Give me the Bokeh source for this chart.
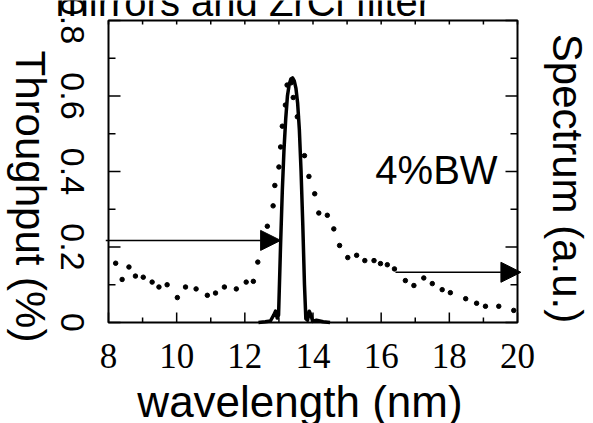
import math
from bokeh.plotting import figure
from bokeh.models import Arrow, NormalHead, Label, Range1d
from bokeh.embed import file_html
from bokeh.resources import INLINE

# ---- data ----
title_text = "mirrors and ZrCl filter"
x_label = "wavelength (nm)"
y_label = "Throughput (%)"
y2_label = "Spectrum (a.u.)"
x_ticks = [8, 10, 12, 14, 16, 18, 20]
x_tick_labels = ["8", "10", "12", "14", "16", "18", "20"]
x_minor = [9, 11, 13, 15, 17, 19]
y_ticks = [0, 0.2, 0.4, 0.6, 0.8]
y_tick_labels = ["0", "0.2", "0.4", "0.6", "0.8"]
y_minor = [0.1, 0.3, 0.5, 0.7]

# throughput (solid)
thr_wl = [12.4, 12.6, 12.75, 12.85, 12.9, 12.95, 12.99, 13.05, 13.1, 13.15, 13.2,
          13.25, 13.3, 13.35, 13.4, 13.45, 13.5, 13.55, 13.6, 13.65, 13.7, 13.75,
          13.79, 13.84, 13.89, 13.94, 13.99, 14.1, 14.3, 14.5]
thr_val = [0.0, 0.002, 0.004, 0.02, 0.03, 0.012, 0.02, 0.21, 0.35, 0.46, 0.54,
           0.60, 0.63, 0.645, 0.648, 0.64, 0.62, 0.58, 0.51, 0.40, 0.26, 0.10,
           0.01, 0.006, 0.03, 0.02, 0.003, 0.006, 0.002, 0.0]

# spectrum (dotted)
spec_wl = [8.21, 8.40, 8.60, 8.79, 9.02, 9.28, 9.48, 9.72, 10.02, 10.26, 10.57,
           10.90, 11.14, 11.40, 11.75, 12.04, 12.25, 12.38, 12.66, 12.83, 12.88,
           13.00, 13.05, 13.10, 13.19, 13.24, 13.36, 13.42, 13.54, 13.75, 13.88,
           14.05, 14.17, 14.42, 14.61, 14.78, 15.02, 15.28, 15.52, 15.79, 15.98,
           16.18, 16.39, 16.71, 16.96, 17.25, 17.50, 17.79, 18.03, 18.48, 18.80,
           19.06, 19.45, 19.89]
spec_val = [0.157, 0.114, 0.147, 0.123, 0.120, 0.107, 0.094, 0.100, 0.066, 0.094,
            0.089, 0.072, 0.078, 0.094, 0.089, 0.107, 0.109, 0.160, 0.255, 0.309,
            0.363, 0.412, 0.465, 0.520, 0.576, 0.629, 0.635, 0.596, 0.545, 0.442,
            0.387, 0.341, 0.290, 0.284, 0.248, 0.204, 0.172, 0.178, 0.164, 0.164,
            0.156, 0.153, 0.142, 0.111, 0.098, 0.118, 0.103, 0.087, 0.079, 0.063,
            0.051, 0.043, 0.043, 0.032]

# arrows (wavelength start, wavelength end, value)
arrow_left = (7.92, 13.05, 0.2175)
arrow_right = (16.42, 20.1, 0.133)
bw_label = (15.83, 0.366, "4%BW")

SANS = "Liberation Sans"
SERIF = "Liberation Serif"

X0, X1 = 8, 20
Y0, Y1 = 0, 0.8

# ---- layout (pixels) ----
W, H = 593, 423
BOX_L, BOX_R, BOX_T, BOX_B = 108, 517, 20, 322
SX = (BOX_R - BOX_L) / (X1 - X0)      # px per nm
SY = (BOX_B - BOX_T) / (Y1 - Y0)      # px per unit

p = figure(width=W, height=H,
           x_range=Range1d(X0 - BOX_L / SX, X1 + (W - BOX_R) / SX),
           y_range=Range1d(Y0 - (H - BOX_B) / SY, Y1 + BOX_T / SY),
           output_backend="svg", toolbar_location=None, min_border=0,
           x_axis_location=None, y_axis_location=None)
p.grid.visible = False
p.outline_line_color = None
p.background_fill_color = "white"
p.border_fill_color = "white"

# plot box
p.quad(left=[X0], right=[X1], bottom=[Y0], top=[Y1], fill_color=None,
       line_color="black", line_width=2)

# inward ticks
def hticks(vals, x_edge, length_px, sign):
    p.segment(x0=[x_edge] * len(vals), y0=vals,
              x1=[x_edge + sign * length_px / SX] * len(vals), y1=vals,
              line_color="black", line_width=1.5)

def vticks(vals, y_edge, length_px, sign):
    p.segment(x0=vals, y0=[y_edge] * len(vals),
              x1=vals, y1=[y_edge + sign * length_px / SY] * len(vals),
              line_color="black", line_width=1.5)

hticks(y_ticks, X0, 12, 1)
hticks(y_minor, X0, 7, 1)
hticks(y_ticks, X1, 12, -1)
hticks(y_minor, X1, 7, -1)
vticks(x_ticks, Y0, 10, 1)
vticks(x_minor, Y0, 5, 1)
vticks(x_ticks + x_minor, Y1, 4, -1)

# data
p.line(thr_wl, thr_val, line_color="black", line_width=3.5, line_join="round")
p.scatter(spec_wl, spec_val, size=4.5, color="black")

for a in (arrow_left, arrow_right):
    p.add_layout(Arrow(x_start=a[0], x_end=a[1], y_start=a[2], y_end=a[2],
                       line_color="black", line_width=1.5,
                       end=NormalHead(size=20, fill_color="black",
                                      line_color="black")))

def lab(x, y, text, size, font=SANS, dx=0, dy=0, angle=0.0, align="center"):
    p.add_layout(Label(x=x, y=y, x_offset=dx, y_offset=dy, text=text,
                       angle=angle, text_font=font, text_font_size=size,
                       text_align=align, text_baseline="middle",
                       text_color="black"))

# tick labels
for t, s in zip(x_ticks, x_tick_labels):
    lab(t, Y0, s, "35px", font=SERIF, dy=-33)
for t, s in zip(y_ticks, y_tick_labels):
    lab(X0, t, s, "34px", dx=-36, angle=-math.pi / 2)

# axis titles and annotations
lab((X0 + X1) / 2, Y0, x_label, "44px", dx=-13, dy=-79)
lab(X0, Y0, y_label, "42px", dx=-78, dy=126, angle=-math.pi / 2)
lab(X1, Y0, y2_label, "42px", dx=50, dy=144, angle=-math.pi / 2)
lab(bw_label[0], bw_label[1], bw_label[2], "40px", dy=14, align="left")
lab(X0, Y1, title_text, "40px", dx=-53, dy=19, align="left")

open("out.html", "w").write(file_html(p, INLINE))
